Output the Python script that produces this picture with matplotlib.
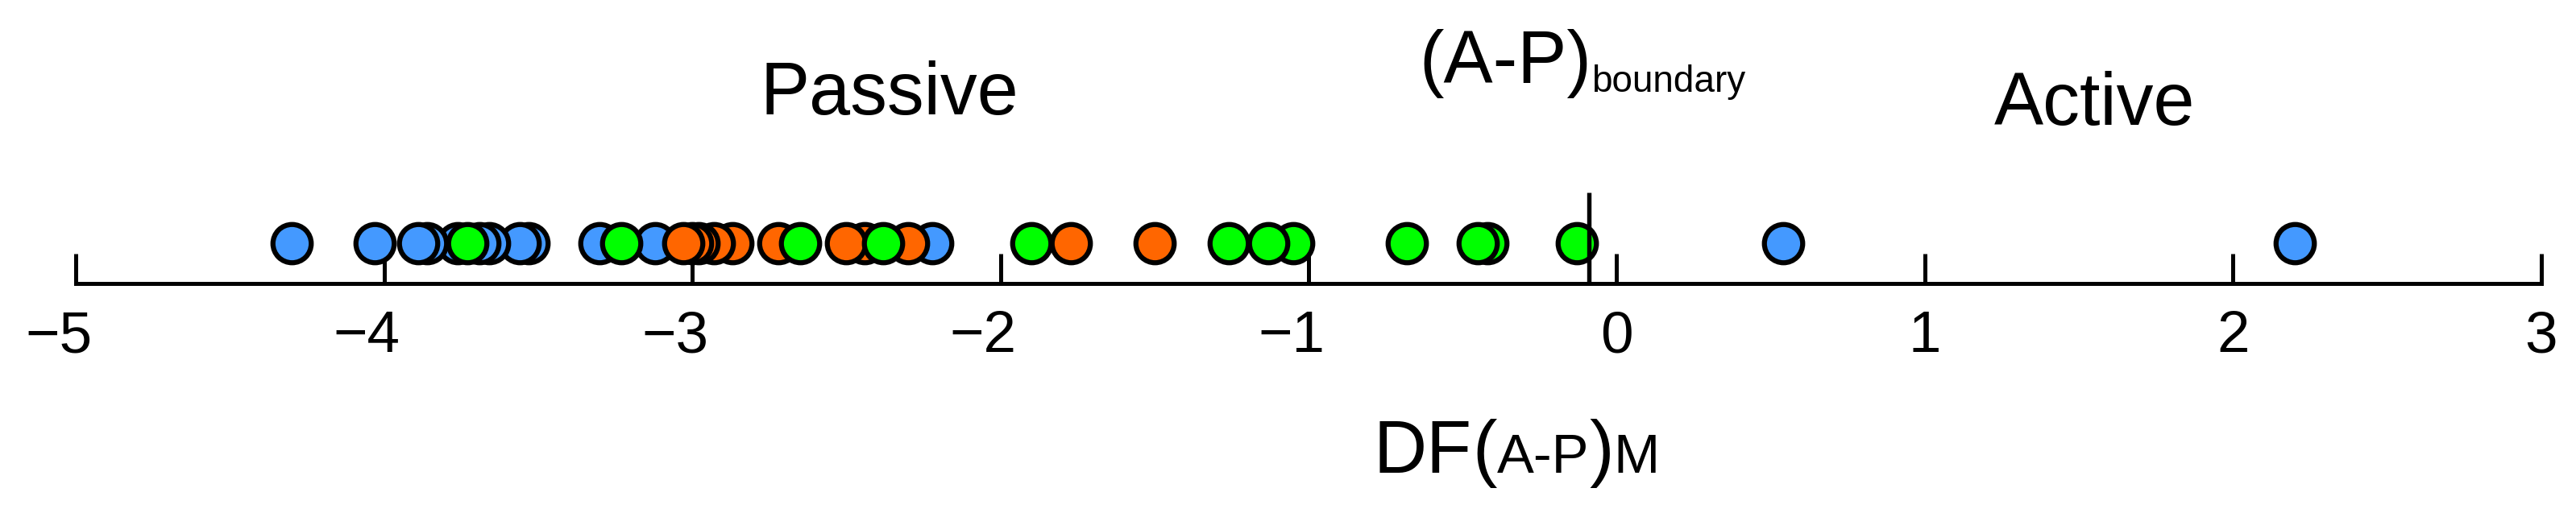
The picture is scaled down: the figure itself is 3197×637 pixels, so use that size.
"""Strip plot of DF(A-P)M scores with the active/passive boundary."""

import matplotlib
matplotlib.use("Agg")
import matplotlib.pyplot as plt
import numpy as np
from matplotlib.transforms import ScaledTranslation, blended_transform_factory


# DF(A-P)M values, one list per group
BLUE_DF = [-4.30, -4.03, -3.89, -3.86, -3.76, -3.69, -3.66, -3.56, -3.53,
           -3.30, -3.12, -2.22, 0.54, 2.20]
ORANGE_DF = [-3.03, -3.00, -2.98, -2.93, -2.87, -2.72, -2.50, -2.44, -2.30,
             -1.77, -1.50]
GREEN_DF = [-3.73, -3.23, -2.65, -2.38, -1.90, -1.26, -1.13, -1.05, -0.68,
            -0.45, -0.42, -0.13]

BOUNDARY = -0.09
XTICKS = [-5, -4, -3, -2, -1, 0, 1, 2, 3]

GROUP_COLORS = {"blue": "#4499ff", "orange": "#ff6600", "green": "#00ff00"}

W, H, DPI = 3197, 637, 300


def text_run(fig, renderer, x, y, pieces):
    """Write text pieces one after another on a shared baseline (pixels)."""
    for s, size, dy in pieces:
        t = fig.text(x / W, (y + dy) / H, s, fontsize=size,
                     ha="left", va="baseline")
        x = t.get_window_extent(renderer).x1


def main() -> None:
    plt.rcParams["font.family"] = ["Liberation Sans", "DejaVu Sans"]

    fig = plt.figure(figsize=(W / DPI, H / DPI), dpi=DPI)
    ax = fig.add_axes([94 / W, (H - 351.7) / H, (3154 - 94) / W, 351.7 / H])
    ax.set_xlim(-5, 3)
    ax.set_ylim(0, 1)

    y_row = 0.142
    for vals, key in [(BLUE_DF, "blue"), (ORANGE_DF, "orange"), (GREEN_DF, "green")]:
        vals = sorted(vals, reverse=True)
        ax.scatter(vals, np.full(len(vals), y_row), s=130, c=GROUP_COLORS[key],
                   edgecolors="black", linewidths=1.5, clip_on=False, zorder=3)

    ax.plot([BOUNDARY, BOUNDARY], [0, 0.32], color="black", lw=1.3,
            solid_capstyle="butt", zorder=4)

    ax.set_xticks(XTICKS)
    ax.set_xticklabels([str(t).replace("-", "\u2212") for t in XTICKS])
    ax.tick_params(axis="x", direction="in", length=8.9, width=1.2, pad=8,
                   labelsize=17.5)
    ax.set_yticks([])
    for side in ("top", "left", "right"):
        ax.spines[side].set_visible(False)
    ax.spines["bottom"].set_linewidth(1.2)

    # keep the digit centred on the tick, minus sign hanging to the left
    shift = ScaledTranslation(-0.292 * 17.5 / 72, 0, fig.dpi_scale_trans)
    for lab, t in zip(ax.get_xticklabels(), XTICKS):
        if t < 0:
            lab.set_transform(lab.get_transform() + shift)

    trans = blended_transform_factory(ax.transData, ax.transAxes)
    ax.text(-2.36, 0.596, "Passive", transform=trans, fontsize=22,
            ha="center", va="baseline")
    ax.text(1.55, 0.559, "Active", transform=trans, fontsize=22,
            ha="center", va="baseline")

    renderer = fig.canvas.get_renderer()
    text_run(fig, renderer, 1761, H - 103,
             [("(A-P)", 22, 0), ("boundary", 11, -11)])
    text_run(fig, renderer, 1705, H - 587,
             [("DF", 22, 0), ("(", 22, 0), ("A-P", 16.5, 0), (")", 22, 0),
              ("M", 16.5, 0)])

    fig.savefig("out.png", dpi=DPI)
    plt.close(fig)


if __name__ == "__main__":
    main()
